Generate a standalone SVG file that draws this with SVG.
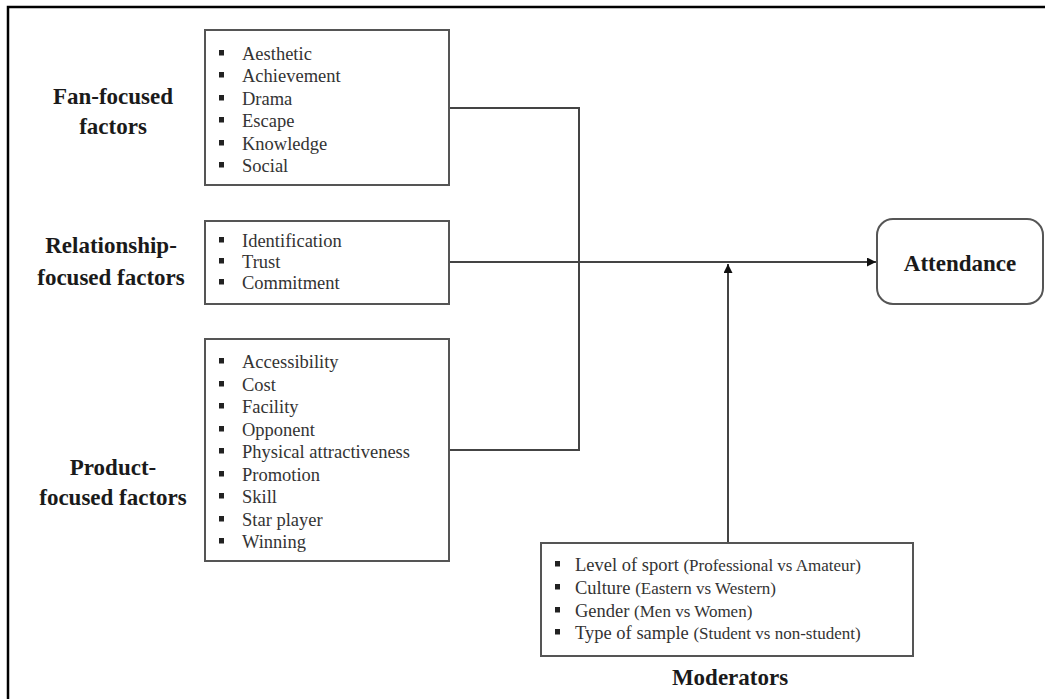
<svg xmlns="http://www.w3.org/2000/svg" width="1045" height="699" viewBox="0 0 1045 699">
  <defs>
    <style>
      .frame { fill: none; stroke: #000; stroke-width: 2.5; }
      .box { fill: #fff; stroke: #555; stroke-width: 2; }
      .wire { fill: none; stroke: #444; stroke-width: 2; }
      .item { font-family: "Liberation Serif", "Times New Roman", serif; font-size: 18.5px; fill: #333; }
      .small { font-size: 17px; }
      .label { font-family: "Liberation Serif", "Times New Roman", serif; font-size: 23px; font-weight: bold; fill: #1a1a1a; text-anchor: middle; }
      .bullet { fill: #222; }
    </style>
    <marker id="arrow" viewBox="0 0 10 10" refX="10" refY="5" markerWidth="10" markerHeight="9" markerUnits="userSpaceOnUse" orient="auto">
      <path d="M0,0 L10,5 L0,10 Z" fill="#111"/>
    </marker>
    <rect id="sq" x="0" y="0" width="5" height="5.5" class="bullet"/>
  </defs>

  <rect width="1045" height="699" fill="#fff"/>
  <!-- outer frame, open to the right and bottom -->
  <path class="frame" d="M8,699 L8,7 L1045,7"/>

  <!-- connectors -->
  <g id="connectors">
    <path class="wire" d="M449,108 L579,108 L579,450 L449,450"/>
    <path class="wire" d="M449,262 L876,262" marker-end="url(#arrow)"/>
    <path class="wire" d="M728,543 L728,264" marker-end="url(#arrow)"/>
  </g>

  <!-- fan-focused factors -->
  <g id="fan">
    <text class="label" x="113" y="104">Fan-focused</text>
    <text class="label" x="113" y="134">factors</text>
    <rect class="box" x="205" y="30" width="244" height="155"/>
    <use href="#sq" x="219" y="50"/>
    <use href="#sq" x="219" y="72"/>
    <use href="#sq" x="219" y="95"/>
    <use href="#sq" x="219" y="117"/>
    <use href="#sq" x="219" y="140"/>
    <use href="#sq" x="219" y="162"/>
    <text class="item" x="242" y="60">Aesthetic</text>
    <text class="item" x="242" y="82">Achievement</text>
    <text class="item" x="242" y="105">Drama</text>
    <text class="item" x="242" y="127">Escape</text>
    <text class="item" x="242" y="150">Knowledge</text>
    <text class="item" x="242" y="172">Social</text>
  </g>

  <!-- relationship-focused factors -->
  <g id="relationship">
    <text class="label" x="111" y="253">Relationship-</text>
    <text class="label" x="111" y="285">focused factors</text>
    <rect class="box" x="205" y="221" width="244" height="83"/>
    <use href="#sq" x="219" y="237"/>
    <use href="#sq" x="219" y="258"/>
    <use href="#sq" x="219" y="279"/>
    <text class="item" x="242" y="247">Identification</text>
    <text class="item" x="242" y="268">Trust</text>
    <text class="item" x="242" y="289">Commitment</text>
  </g>

  <!-- product-focused factors -->
  <g id="product">
    <text class="label" x="113" y="475">Product-</text>
    <text class="label" x="113" y="505">focused factors</text>
    <rect class="box" x="205" y="339" width="244" height="222"/>
    <use href="#sq" x="219" y="358"/>
    <use href="#sq" x="219" y="381"/>
    <use href="#sq" x="219" y="403"/>
    <use href="#sq" x="219" y="426"/>
    <use href="#sq" x="219" y="448"/>
    <use href="#sq" x="219" y="471"/>
    <use href="#sq" x="219" y="493"/>
    <use href="#sq" x="219" y="516"/>
    <use href="#sq" x="219" y="538"/>
    <text class="item" x="242" y="368">Accessibility</text>
    <text class="item" x="242" y="391">Cost</text>
    <text class="item" x="242" y="413">Facility</text>
    <text class="item" x="242" y="436">Opponent</text>
    <text class="item" x="242" y="458">Physical attractiveness</text>
    <text class="item" x="242" y="481">Promotion</text>
    <text class="item" x="242" y="503">Skill</text>
    <text class="item" x="242" y="526">Star player</text>
    <text class="item" x="242" y="548">Winning</text>
  </g>

  <!-- outcome -->
  <g id="attendance">
    <rect class="box" x="877" y="219" width="166" height="85" rx="16" ry="16"/>
    <text class="label" x="960" y="271">Attendance</text>
  </g>

  <!-- moderators -->
  <g id="moderators">
    <rect class="box" x="541" y="543" width="372" height="113"/>
    <use href="#sq" x="555" y="561"/>
    <use href="#sq" x="555" y="584"/>
    <use href="#sq" x="555" y="607"/>
    <use href="#sq" x="555" y="629"/>
    <text class="item" x="575" y="571">Level of sport <tspan class="small">(Professional vs Amateur)</tspan></text>
    <text class="item" x="575" y="594">Culture <tspan class="small">(Eastern vs Western)</tspan></text>
    <text class="item" x="575" y="617">Gender <tspan class="small">(Men vs Women)</tspan></text>
    <text class="item" x="575" y="639">Type of sample <tspan class="small">(Student vs non-student)</tspan></text>
    <text class="label" x="730" y="685">Moderators</text>
  </g>
</svg>
